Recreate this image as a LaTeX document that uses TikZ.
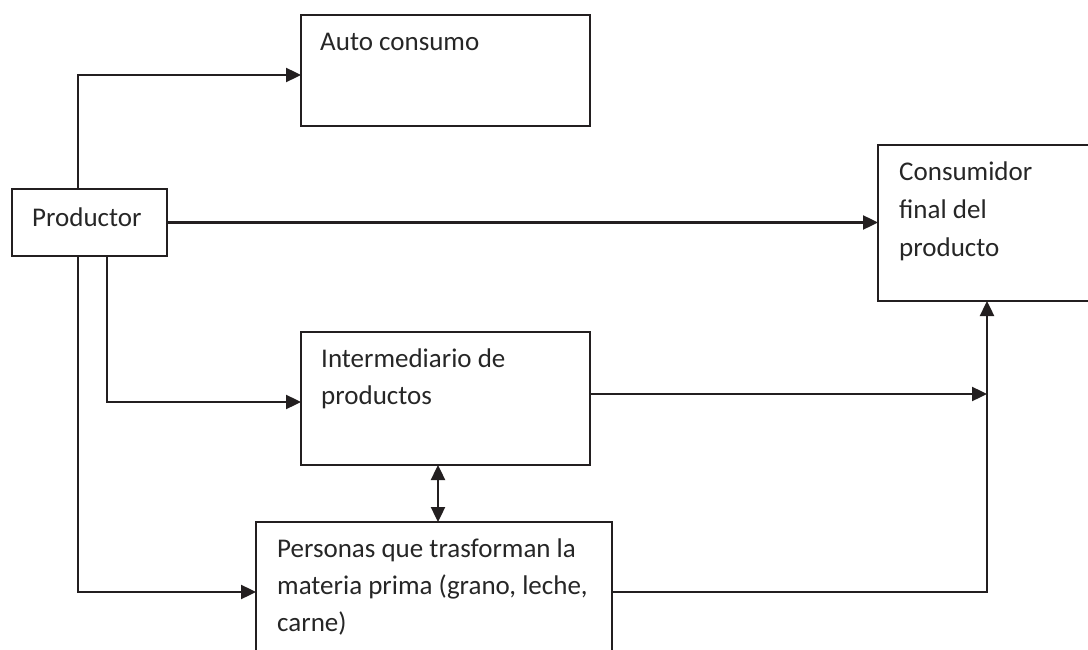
\documentclass[tikz,border=0pt]{standalone}
\usepackage{fontspec}
\setmainfont{Carlito}
\usetikzlibrary{arrows.meta}
\definecolor{ink}{HTML}{231F20}
\definecolor{txt}{HTML}{262626}
\begin{document}
\begin{tikzpicture}[x=1pt,y=-1pt,
  box/.style={draw=ink,line width=2.4pt,inner sep=0pt,outer sep=0pt,rectangle},
  lbl/.style={anchor=base west,inner sep=0pt,text=txt,font=\fontsize{27}{37}\selectfont},
  arr/.style={draw=ink,line width=2.4pt,-{Triangle[length=15pt,width=14pt]}},
  darr/.style={draw=ink,line width=2.4pt,{Triangle[length=15pt,width=14pt]}-{Triangle[length=15pt,width=14pt]}}]
\useasboundingbox (0,0) rectangle (1088,650);
\clip (0,0) rectangle (1088,650);
% boxes
\node[box,minimum width=289pt,minimum height=111pt] (auto) at (445.5,70.5) {};
\node[box,minimum width=155pt,minimum height=67pt] (prod) at (89.5,222.5) {};
\node[box,minimum width=222pt,minimum height=156pt] (cons) at (989,223) {};
\node[box,minimum width=289pt,minimum height=133pt] (inter) at (445.5,398.5) {};
\node[box,minimum width=356pt,minimum height=148pt] (pers) at (434,596) {};
% texts
\node[lbl] (t1) at (320,51) {Auto consumo};
\node[lbl] (t2) at (32,226) {Productor};
\node[lbl] (t3) at (899,181) {Consumidor};
\node[lbl] (t4) at (899,218.5) {final del};
\node[lbl] (t5) at (899,256) {producto};
\node[lbl] (t6) at (321,367) {Intermediario de};
\node[lbl] (t7) at (321,404) {productos};
\node[lbl] (t8) at (277,557) {Personas que trasforman la};
\node[lbl] (t9) at (277,594) {materia prima (grano, leche,};
\node[lbl] (t10) at (277,631) {carne)};
% helper coordinates
\coordinate (a1) at (78,75);
\coordinate (a2) at (107,402);
\coordinate (a3) at (78,592);
\coordinate (j) at (987,394);
\coordinate (k) at (987,592);
\coordinate (m) at (438,0);
% connectors
\draw[arr] (prod.north -| a1) |- (auto.west |- a1);
\draw[arr] (prod.east) -- (cons.west |- prod.east);
\draw[arr] (prod.south -| a2) |- (inter.west |- a2);
\draw[arr] (prod.south -| a3) |- (pers.west |- a3);
\draw[arr] (inter.east |- j) -- (j);
\draw[arr] (pers.east |- k) -| (cons.south -| k);
\draw[darr] (inter.south -| m) -- (pers.north -| m);
\end{tikzpicture}
\end{document}
